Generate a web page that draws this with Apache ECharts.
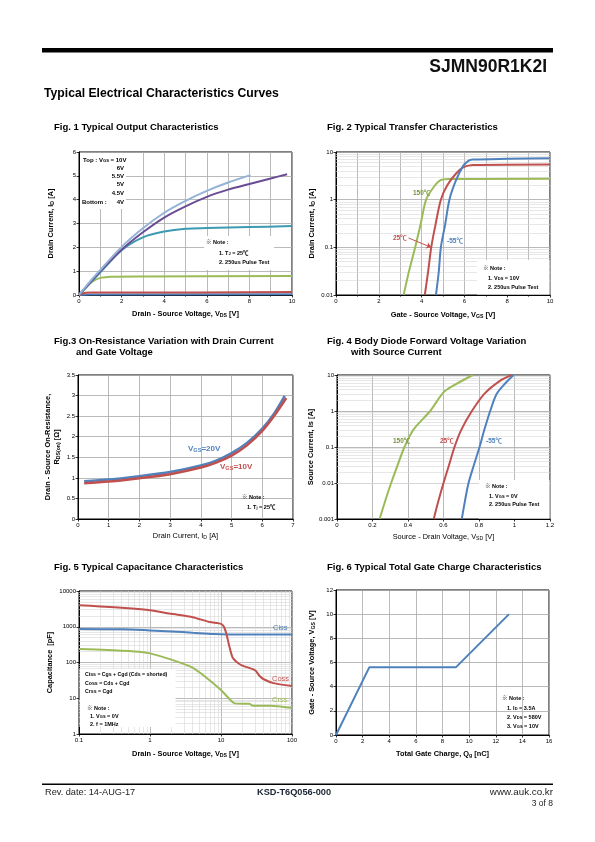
<!DOCTYPE html>
<html><head><meta charset="utf-8">
<script src="https://cdn.jsdelivr.net/npm/echarts@6/dist/echarts.min.js"></script>
<style>html,body{margin:0;padding:0;background:#fff}#c{width:595px;height:842px}</style>
</head><body><div id="c"></div>
<script>
const F = '"Liberation Sans", Arial, "Noto Sans CJK KR", sans-serif';

// ---------------- DATA ----------------
// Fig 1: Output characteristics (VDS [V], ID [A])
const fig1_vgs10 = [[0,0],[0.5,0.55],[1,1.05],[2,2.02],[3,2.8],[4,3.45],[5,3.95],[6,4.37],[7,4.72],[8.05,5.03]];
const fig1_vgs6  = [[0,0],[0.5,0.5],[1,1.0],[2,1.9],[3,2.63],[4,3.25],[5,3.72],[6,4.12],[7,4.42],[8,4.66],[9,4.89],[9.77,5.07]];
const fig1_vgs55 = [[0,0],[0.5,0.48],[1,0.95],[2,1.88],[3,2.42],[4,2.66],[5,2.78],[6,2.81],[8,2.85],[10,2.89]];
const fig1_vgs5  = [[0,0],[0.3,0.3],[0.6,0.55],[1,0.72],[1.5,0.77],[3,0.78],[10,0.8]];
const fig1_vgs45 = [[0,0],[0.3,0.09],[0.6,0.1],[2,0.1],[10,0.13]];
const fig1_vgs4  = [[0,0],[0.5,0.02],[10,0.03]];
// Fig 2: Transfer characteristics (VGS [V], ID [A])
const fig2_t150 = [[3.16,0.01],[3.4,0.03],[3.7,0.1],[3.95,0.3],[4.21,1.0],[4.55,1.8],[4.87,2.54],[5.3,2.7],[10,2.76]];
const fig2_t25  = [[4.15,0.01],[4.3,0.03],[4.45,0.1],[4.65,0.3],[4.9,1.0],[5.2,2.0],[5.6,3.5],[5.96,4.8],[6.4,5.35],[10,5.5]];
const fig2_tm55 = [[4.67,0.01],[4.8,0.03],[4.9,0.1],[5.1,0.3],[5.3,1.0],[5.6,2.5],[5.93,5.0],[6.2,6.6],[6.4,6.95],[8,7.2],[10,7.4]];
// Fig 3: On-resistance (ID [A], RDS(on) [Ohm])
const fig3_vgs20 = [[0.2,0.92],[1,0.96],[2,1.04],[3,1.14],[4,1.3],[4.5,1.42],[5,1.6],[5.5,1.85],[6,2.2],[6.4,2.58],[6.73,2.99]];
const fig3_vgs10 = [[0.2,0.87],[1,0.91],[2,0.99],[3,1.09],[4,1.25],[4.5,1.37],[5,1.54],[5.5,1.79],[6,2.14],[6.4,2.52],[6.78,2.94]];
// Fig 4: Body diode (VSD [V], IS [A])
const fig4_t150 = [[0.24,0.001],[0.27,0.003],[0.305,0.01],[0.34,0.03],[0.38,0.1],[0.43,0.3],[0.525,1],[0.6,3.3],[0.66,5.2],[0.765,10]];
const fig4_t25  = [[0.545,0.001],[0.57,0.003],[0.6,0.01],[0.63,0.03],[0.662,0.1],[0.7,0.3],[0.76,1],[0.83,3],[0.92,7],[0.985,10]];
const fig4_tm55 = [[0.703,0.001],[0.72,0.003],[0.741,0.01],[0.77,0.03],[0.803,0.1],[0.83,0.3],[0.863,1],[0.9,3],[0.95,6],[0.995,10]];
// Fig 5: Capacitance (VDS [V], C [pF])
const fig5_ciss = [[0.1,870],[0.4,850],[1,790],[2,740],[4,680],[8,625],[12,610],[100,610]];
const fig5_coss = [[0.1,4000],[0.2,3700],[0.5,3300],[1,2900],[2,2300],[4,1850],[7,1350],[10,1200],[11,1000],[12,600],[13,300],[14.5,140],[17,100],[20,82],[28,65],[31,58],[35,42],[40,34],[55,26.5],[100,22]];
const fig5_crss = [[0.1,240],[0.3,220],[0.7,200],[1,180],[2,120],[3.9,73],[6,40],[10,17],[15.5,7.2],[25,7],[28,6.2],[50,6.2],[100,5.4]];
// Fig 6: Gate charge (Qg [nC], VGS [V])
const fig6_qg = [[0,0],[2.5,5.6],[9,5.6],[13,10]];

// minor log grid values
const logMinor = (from, to) => { const r=[]; for (let d=from; d<to; d*=10) for (let k=2;k<=9;k++) r.push(+(d*k).toPrecision(6)); return r; };

// ---------------- STYLES ----------------
const C_BLUE='#4F81BD', C_RED='#C0504D', C_GREEN='#9BBB59', C_LBLUE='#95B3D7', C_PURPLE='#6A4C93', C_TEAL='#3C9AB2';
const GRID_C='#a8a8a8', MINOR_C='#d6d6d6';
const NAME_SIZE = 7.4;

function subRich(size, weight) {
  return { s: {fontSize:Math.max(4, size*0.7), lineHeight:Math.max(4,size*0.7), verticalAlign:'bottom', fontWeight:weight, fontFamily:F, color:'#000'} };
}

function axis(gi, o) {
  const w = o.bold===false ? 'normal' : 'bold';
  const a = {
    gridIndex: gi,
    axisLine:{show:true, onZero:false, lineStyle:{color:'#000', width:1}},
    axisTick:{show:true, length:2.5, lineStyle:{color:'#000', width:0.8}},
    axisLabel:{fontSize:6, color:'#000', fontFamily:F, margin:3, formatter: v => String(+(+v).toPrecision(6))},
    splitLine:{show:true, lineStyle:{color:GRID_C, width:0.8}},
    nameLocation:'middle',
    nameTextStyle:{fontSize:NAME_SIZE, color:'#000', fontFamily:F, fontWeight:w, lineHeight:9, rich: subRich(NAME_SIZE, w)},
  };
  delete o.bold;
  return Object.assign(a, o);
}

function line(gi, data, color, w, extra) {
  return Object.assign({type:'line', xAxisIndex:gi, yAxisIndex:gi, data, symbol:'none', showSymbol:false,
    smooth:0.3, lineStyle:{color, width:w}, itemStyle:{color}, z:3, silent:true, animation:false}, extra||{});
}

function minorLines(gi, key, values, anchor) {
  return {type:'line', xAxisIndex:gi, yAxisIndex:gi, data:[anchor], symbol:'none', lineStyle:{opacity:0}, z:1, silent:true, animation:false,
    markLine:{z:1, silent:true, symbol:'none', animation:false, label:{show:false}, emphasis:{disabled:true},
      lineStyle:{color:MINOR_C, width:0.6, type:'solid'}, data: values.map(v => ({[key]: v}))}};
}

const grids = [
  {left:79, top:152, width:213, height:143},
  {left:336, top:152, width:214, height:143},
  {left:78, top:375, width:215, height:144},
  {left:337, top:375, width:213, height:144},
  {left:79, top:591, width:213, height:143},
  {left:336, top:590, width:213, height:145},
].map(g => Object.assign({show:true, borderColor:'#000', borderWidth:1}, g));

const linMinor = {minorTick:{show:true, splitNumber:2, length:1.5, lineStyle:{color:'#000'}}, minorSplitLine:{show:true, lineStyle:{color:GRID_C, width:0.8}}};

const xAxes = [
  axis(0, Object.assign({type:'value', min:0, max:10, interval:2, name:'Drain - Source Voltage, V{s|DS} [V]', nameGap:14}, linMinor)),
  axis(1, Object.assign({type:'value', min:0, max:10, interval:2, name:'Gate - Source Voltage, V{s|GS} [V]', nameGap:15}, linMinor)),
  axis(2, {type:'value', min:0, max:7, interval:1, name:'Drain Current, I{s|D} [A]', nameGap:12, bold:false}),
  axis(3, {type:'value', min:0, max:1.2, interval:0.2, name:'Source - Drain Voltage, V{s|SD} [V]', nameGap:13, bold:false}),
  axis(4, {type:'log', logBase:10, min:0.1, max:100, name:'Drain - Source Voltage, V{s|DS} [V]', nameGap:15}),
  axis(5, {type:'value', min:0, max:16, interval:2, name:'Total Gate Charge, Q{s|g} [nC]', nameGap:14}),
];
const yAxes = [
  axis(0, {type:'value', min:0, max:6, interval:1, name:'Drain Current, I{s|D} [A]', nameGap:24}),
  axis(1, {type:'log', logBase:10, min:0.01, max:10, name:'Drain Current, I{s|D} [A]', nameGap:20}),
  axis(2, {type:'value', min:0, max:3.5, interval:0.5, name:'Drain - Source On-Resistance,\nR{s|DS(on)} [Ω]', nameGap:17}),
  axis(3, {type:'log', logBase:10, min:0.001, max:10, name:'Source Current, Is [A]', nameGap:20}),
  axis(4, {type:'log', logBase:10, min:1, max:10000, name:'Capacitance  [pF]', nameGap:25}),
  axis(5, {type:'value', min:0, max:12, interval:2, name:'Gate - Source Voltage, V{s|GS} [V]', nameGap:20}),
];

const series = [
  // Fig 1
  line(0, fig1_vgs4, C_BLUE, 2, {smooth:false}),
  line(0, fig1_vgs45, C_RED, 2),
  line(0, fig1_vgs5, C_GREEN, 2),
  line(0, fig1_vgs55, C_TEAL, 2),
  line(0, fig1_vgs6, C_PURPLE, 2),
  line(0, fig1_vgs10, C_LBLUE, 2),
  // Fig 2
  minorLines(1, 'yAxis', logMinor(0.01, 10), [0,0.01]),
  line(1, fig2_t150, C_GREEN, 2),
  line(1, fig2_t25, C_RED, 2, {markLine:{z:4, silent:true, animation:false, symbol:['none','arrow'], symbolSize:5, label:{show:false},
      lineStyle:{color:C_RED, width:1, type:'solid'}, data:[[{coord:[3.39,0.157]},{coord:[4.45,0.1]}]]}}),
  line(1, fig2_tm55, C_BLUE, 2),
  // Fig 3
  line(2, fig3_vgs20, C_BLUE, 2.5),
  line(2, fig3_vgs10, C_RED, 2.5),
  // Fig 4
  minorLines(3, 'yAxis', logMinor(0.001, 10), [0,0.001]),
  line(3, fig4_t150, C_GREEN, 2),
  line(3, fig4_t25, C_RED, 2),
  line(3, fig4_tm55, C_BLUE, 2),
  // Fig 5
  minorLines(4, 'yAxis', logMinor(1, 10000), [0.1,1]),
  minorLines(4, 'xAxis', logMinor(0.1, 100), [0.1,1]),
  line(4, fig5_ciss, C_BLUE, 2),
  line(4, fig5_coss, C_RED, 2, {smooth:0.2}),
  line(4, fig5_crss, C_GREEN, 2, {smooth:0.15}),
  // Fig 6
  line(5, fig6_qg, C_BLUE, 2, {smooth:false}),
];

// ---------------- TEXT ----------------
function subRichG(size, weight, color) {
  return {s:{fontSize:Math.max(4,size*0.7), lineHeight:Math.max(4,size*0.7), fontWeight:weight, fontFamily:F, fill:color, verticalAlign:'bottom'}};
}
function T(x, y, text, o) {
  o = o || {};
  const size = o.size || 6, weight = o.weight || 'normal', color = o.color || '#000';
  return {type:'text', x, y, z:20, silent:true, style:{text, fill:color, fontSize:size, fontWeight:weight, fontFamily:F,
    align:o.align||'left', verticalAlign:'middle', rich: subRichG(size, weight, color)}};
}
function R(x, y, w, h, fill, z) { return {type:'rect', z:z||10, silent:true, shape:{x,y,width:w,height:h}, style:{fill}}; }

const TS = 9.5; // figure title size
const graphics = [
  // header / footer
  R(42, 48, 511, 4.5, '#000'),
  T(547, 67.5, 'SJMN90R1K2I', {size:17.5, weight:'bold', align:'right', color:'#111'}),
  T(44, 94, 'Typical Electrical Characteristics Curves', {size:12.2, weight:'bold'}),
  R(42, 783.5, 511, 1.5, '#000'),
  T(45, 792.5, 'Rev. date: 14-AUG-17', {size:9.2, color:'#222'}),
  T(257, 792.5, 'KSD-T6Q056-000', {size:9.2, weight:'bold', color:'#1a2533'}),
  T(553, 792.5, 'www.auk.co.kr', {size:9.8, align:'right', color:'#222'}),
  T(553, 803.5, '3 of 8', {size:8.5, align:'right', color:'#222'}),
  // titles
  T(54, 127, 'Fig. 1 Typical Output Characteristics', {size:TS, weight:'bold'}),
  T(327, 127, 'Fig. 2 Typical Transfer Characteristics', {size:TS, weight:'bold'}),
  T(54, 341, 'Fig.3 On-Resistance Variation with Drain Current', {size:TS, weight:'bold'}),
  T(76, 352, 'and Gate Voltage', {size:TS, weight:'bold'}),
  T(327, 341, 'Fig. 4 Body Diode Forward Voltage Variation', {size:TS, weight:'bold'}),
  T(351, 352, 'with Source Current', {size:TS, weight:'bold'}),
  T(54, 567, 'Fig. 5 Typical Capacitance Characteristics', {size:TS, weight:'bold'}),
  T(327, 567, 'Fig. 6 Typical Total Gate Charge Characteristics', {size:TS, weight:'bold'}),
  // Fig 1 legend & note
  R(80, 153, 46, 56, '#fff'),
  T(83, 160, 'Top : V{s|GS} = 10V', {size:6, weight:'bold'}),
  T(124, 168, '6V', {size:6, weight:'bold', align:'right'}),
  T(124, 176.5, '5.5V', {size:6, weight:'bold', align:'right'}),
  T(124, 184.5, '5V', {size:6, weight:'bold', align:'right'}),
  T(124, 193, '4.5V', {size:6, weight:'bold', align:'right'}),
  T(82, 202, 'Bottom :', {size:6, weight:'bold'}),
  T(124, 202, '4V', {size:6, weight:'bold', align:'right'}),
  R(204, 236, 70, 34, '#fff'),
  T(206, 242, '※ Note :', {size:5.5, weight:'bold'}),
  T(219, 253, '1. T{s|J} = 25℃', {size:5.5, weight:'bold'}),
  T(219, 262, '2. 250us Pulse Test', {size:5.5, weight:'bold'}),
  // Fig 2 labels & note
  T(413, 193, '150℃', {size:6.5, weight:'bold', color:'#77933C'}),
  T(393, 238, '25℃', {size:6.5, weight:'bold', color:'#C0504D'}),
  T(447, 241, '-55℃', {size:6.5, weight:'bold', color:'#4F81BD'}),
  R(477, 260, 72.5, 34.5, '#fff'),
  T(483, 268, '※ Note :', {size:5.5, weight:'bold'}),
  T(488, 278, '1. V{s|DS} = 10V', {size:5.5, weight:'bold'}),
  T(488, 287, '2. 250us Pulse Test', {size:5.5, weight:'bold'}),
  // Fig 3 labels & note
  T(188, 449, 'V{s|GS}=20V', {size:8, weight:'bold', color:'#4F81BD'}),
  T(220, 467, 'V{s|GS}=10V', {size:8, weight:'bold', color:'#C0504D'}),
  T(242, 497, '※ Note :', {size:5.5, weight:'bold'}),
  T(247, 507, '1. T{s|j} = 25℃', {size:5.5, weight:'bold'}),
  // Fig 4 labels & note
  T(393, 441, '150℃', {size:6.5, weight:'bold', color:'#77933C'}),
  T(440, 441, '25℃', {size:6.5, weight:'bold', color:'#C0504D'}),
  T(486, 441, '-55℃', {size:6.5, weight:'bold', color:'#4F81BD'}),
  R(479, 480, 70.5, 38.5, '#fff'),
  T(485, 486, '※ Note :', {size:5.5, weight:'bold'}),
  T(489, 496, '1. V{s|GS} = 0V', {size:5.5, weight:'bold'}),
  T(489, 504, '2. 250us Pulse Test', {size:5.5, weight:'bold'}),
  // Fig 5 labels & note
  T(273, 628, 'Ciss', {size:7.5, color:'#4F81BD'}),
  T(272, 679, 'Coss', {size:7.5, color:'#C0504D'}),
  T(272, 700, 'Crss', {size:7.5, color:'#9BBB59'}),
  R(79.5, 669, 96, 58, '#fff'),
  T(85, 675, 'Ciss = Cgs + Cgd (Cds = shorted)', {size:5.2, weight:'bold'}),
  T(85, 683.5, 'Coss = Cds + Cgd', {size:5.2, weight:'bold'}),
  T(85, 692, 'Crss = Cgd', {size:5.2, weight:'bold'}),
  T(87, 708, '※ Note :', {size:5.5, weight:'bold'}),
  T(90, 716.5, '1. V{s|GS} = 0V', {size:5.5, weight:'bold'}),
  T(90, 724.5, '2. f = 1MHz', {size:5.5, weight:'bold'}),
  // Fig 6 note
  T(502, 698, '※ Note :', {size:5.5, weight:'bold'}),
  T(507, 708, '1. I{s|D} = 3.5A', {size:5.5, weight:'bold'}),
  T(507, 717, '2. V{s|DS} = 580V', {size:5.5, weight:'bold'}),
  T(507, 726, '3. V{s|GS} = 10V', {size:5.5, weight:'bold'}),
];

const chart = echarts.init(document.getElementById('c'), null, {renderer:'canvas'});
chart.setOption({
  backgroundColor:'#fff',
  animation:false,
  textStyle:{fontFamily:F},
  grid: grids,
  xAxis: xAxes,
  yAxis: yAxes,
  series,
  graphic: graphics,
});
</script></body></html>
